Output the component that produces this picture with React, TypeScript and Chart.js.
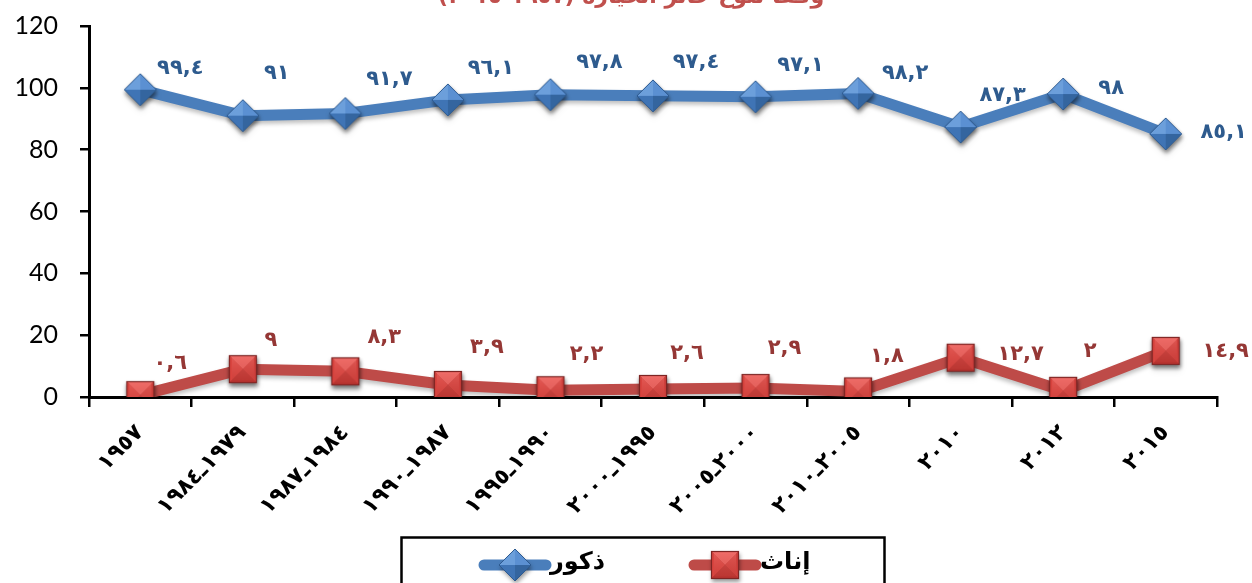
import React, { useEffect, useRef } from "react";
import { Chart, registerables } from "chart.js";

Chart.register(...registerables);

// ---- data ----
const categories = [
  "١٩٥٧",
  "١٩٧٩ـ١٩٨٤",
  "١٩٨٤ـ١٩٨٧",
  "١٩٨٧ـ١٩٩٠",
  "١٩٩٠ـ١٩٩٥",
  "١٩٩٥ـ٢٠٠٠",
  "٢٠٠٠ـ٢٠٠٥",
  "٢٠٠٥ـ٢٠١٠",
  "٢٠١٠",
  "٢٠١٢",
  "٢٠١٥",
];
const maleValues = [99.4, 91, 91.7, 96.1, 97.8, 97.4, 97.1, 98.2, 87.3, 98, 85.1];
const femaleValues = [0.6, 9, 8.3, 3.9, 2.2, 2.6, 2.9, 1.8, 12.7, 2, 14.9];
const yTicks = [0, 20, 40, 60, 80, 100, 120];
const maleName = "ذكور";
const femaleName = "إناث";
const titleText = "وفقاً لنوع حائز الحيازة (١٩٥٧-٢٠١٥)";

// label offsets relative to the drawn point (style only)
const maleLabelOffsets = [
  [40, -21], [34, -42], [44, -34], [43, -31], [49, -32], [43, -33],
  [45, -31], [47, -20], [42, -32], [48, -5], [58, -1],
];
const femaleLabelOffsets = [
  [30, -32], [28, -29], [39, -34], [39, -37], [36, -36], [34, -35],
  [29, -39], [29, -35], [60, -3], [27, -39], [60, 1],
];

const BLUE = "#4A7EBB";
const RED = "#BE4B48";

const toArabicDigits = (v: number) =>
  String(v)
    .replace(".", ",")
    .replace(/\d/g, (d) => "٠١٢٣٤٥٦٧٨٩"[Number(d)]);

function makeDiamond(): HTMLCanvasElement {
  const c = document.createElement("canvas");
  c.width = 46;
  c.height = 46;
  const ctx = c.getContext("2d")!;
  const m = 23;
  const h = 16;
  const T = [m, m - h], R = [m + h, m], B = [m, m + h], L = [m - h, m];
  ctx.save();
  ctx.shadowColor = "rgba(0,0,0,0.4)";
  ctx.shadowBlur = 4;
  ctx.shadowOffsetX = 1;
  ctx.shadowOffsetY = 3;
  ctx.beginPath();
  ctx.moveTo(T[0], T[1]); ctx.lineTo(R[0], R[1]); ctx.lineTo(B[0], B[1]); ctx.lineTo(L[0], L[1]);
  ctx.closePath();
  ctx.fillStyle = "#3A6AA5";
  ctx.fill();
  ctx.restore();
  const facet = (a: number[], b: number[], col: string) => {
    ctx.beginPath();
    ctx.moveTo(a[0], a[1]); ctx.lineTo(b[0], b[1]); ctx.lineTo(m, m);
    ctx.closePath();
    ctx.fillStyle = col;
    ctx.fill();
  };
  facet(L, T, "#6C9FDB");
  facet(T, R, "#5B90D2");
  facet(L, B, "#3F74B5");
  facet(B, R, "#34659F");
  ctx.beginPath();
  ctx.moveTo(T[0], T[1]); ctx.lineTo(R[0], R[1]); ctx.lineTo(B[0], B[1]); ctx.lineTo(L[0], L[1]);
  ctx.closePath();
  ctx.strokeStyle = "#2D5A90";
  ctx.lineWidth = 1;
  ctx.stroke();
  return c;
}

function makeSquare(): HTMLCanvasElement {
  const c = document.createElement("canvas");
  c.width = 46;
  c.height = 46;
  const ctx = c.getContext("2d")!;
  const m = 23;
  const h = 14;
  ctx.save();
  ctx.shadowColor = "rgba(0,0,0,0.4)";
  ctx.shadowBlur = 4;
  ctx.shadowOffsetX = 1;
  ctx.shadowOffsetY = 3;
  ctx.fillStyle = "#A8332F";
  ctx.fillRect(m - h, m - h, 2 * h, 2 * h);
  ctx.restore();
  const TL = [m - h, m - h], TR = [m + h, m - h], BR = [m + h, m + h], BL = [m - h, m + h];
  const facet = (a: number[], b: number[], col: string) => {
    ctx.beginPath();
    ctx.moveTo(a[0], a[1]); ctx.lineTo(b[0], b[1]); ctx.lineTo(m, m);
    ctx.closePath();
    ctx.fillStyle = col;
    ctx.fill();
  };
  facet(TL, TR, "#EE6B67");
  facet(TL, BL, "#D9443F");
  facet(TR, BR, "#CF403C");
  facet(BL, BR, "#B83430");
  const inset = 3;
  const g = ctx.createLinearGradient(0, m - h, 0, m + h);
  g.addColorStop(0, "rgba(240,110,105,0.55)");
  g.addColorStop(1, "rgba(190,55,50,0.35)");
  ctx.fillStyle = g;
  ctx.fillRect(m - h + inset, m - h + inset, 2 * (h - inset), 2 * (h - inset));
  ctx.strokeStyle = "#7E2523";
  ctx.lineWidth = 1.2;
  ctx.strokeRect(m - h + 0.5, m - h + 0.5, 2 * h - 1, 2 * h - 1);
  return c;
}

export default function App() {
  const ref = useRef<HTMLCanvasElement | null>(null);

  useEffect(() => {
    if (!ref.current) return;
    const diamond = makeDiamond();
    const square = makeSquare();

    const lineShadow = {
      id: "lineShadow",
      beforeDatasetDraw(chart: any) {
        const ctx = chart.ctx;
        ctx.save();
        ctx.shadowColor = "rgba(0,0,0,0.25)";
        ctx.shadowBlur = 4;
        ctx.shadowOffsetY = 3;
      },
      afterDatasetDraw(chart: any) {
        chart.ctx.restore();
      },
    };

    const extras = {
      id: "extras",
      afterDatasetsDraw(chart: any) {
        const ctx = chart.ctx as CanvasRenderingContext2D;
        const sets = [
          { vals: maleValues, offs: maleLabelOffsets, color: "#2E5B8E" },
          { vals: femaleValues, offs: femaleLabelOffsets, color: "#953735" },
        ];
        sets.forEach((s, di) => {
          const meta = chart.getDatasetMeta(di);
          ctx.save();
          ctx.font = "bold 21px 'DejaVu Sans'";
          (ctx as any).letterSpacing = "3px";
          ctx.fillStyle = s.color;
          ctx.textAlign = "center";
          ctx.textBaseline = "middle";
          meta.data.forEach((pt: any, i: number) => {
            const [dx, dy] = s.offs[i];
            ctx.fillText(toArabicDigits(s.vals[i]), pt.x + dx, pt.y + dy);
          });
          ctx.restore();
        });
      },
      afterDraw(chart: any) {
        const ctx = chart.ctx as CanvasRenderingContext2D;
        // title (clipped at the top, as in the source)
        ctx.save();
        ctx.font = "bold 22px 'DejaVu Sans'";
        ctx.fillStyle = "#C0504D";
        ctx.textAlign = "center";
        ctx.textBaseline = "alphabetic";
        (ctx as any).direction = "rtl";
        ctx.fillText(titleText, 631, 3);
        ctx.restore();

        // legend
        ctx.save();
        ctx.strokeStyle = "#000";
        ctx.lineWidth = 2.5;
        ctx.strokeRect(401.5, 537.5, 483, 60);
        const item = (x0: number, x1: number, col: string, img: HTMLCanvasElement, text: string) => {
          const y = 565;
          ctx.beginPath();
          ctx.moveTo(x0, y);
          ctx.lineTo(x1, y);
          ctx.strokeStyle = col;
          ctx.lineWidth = 11;
          ctx.lineCap = "round";
          ctx.stroke();
          const cx = (x0 + x1) / 2;
          ctx.drawImage(img, cx - img.width / 2, y - img.height / 2);
          ctx.fillStyle = "#000";
          ctx.font = "bold 24px 'DejaVu Sans'";
          ctx.textAlign = "left";
          ctx.textBaseline = "middle";
          ctx.fillText(text, x1 + 4, y - 2);
        };
        item(484, 546, BLUE, diamond, maleName);
        item(694, 756, RED, square, femaleName);
        ctx.restore();
      },
    };

    const chart = new Chart(ref.current, {
      type: "line",
      data: {
        labels: categories,
        datasets: [
          {
            label: maleName,
            data: maleValues,
            borderColor: BLUE,
            backgroundColor: BLUE,
            borderWidth: 11,
            borderJoinStyle: "round",
            borderCapStyle: "round",
            pointStyle: diamond as any,
            pointRadius: 15,
            tension: 0,
          },
          {
            label: femaleName,
            data: femaleValues,
            borderColor: RED,
            backgroundColor: RED,
            borderWidth: 11,
            borderJoinStyle: "round",
            borderCapStyle: "round",
            pointStyle: square as any,
            pointRadius: 15,
            tension: 0,
          },
        ],
      },
      options: {
        animation: false,
        responsive: false,
        layout: { padding: { top: 25, right: 35, bottom: 0, left: 0 } },
        plugins: {
          legend: { display: false },
          title: { display: false },
          tooltip: { enabled: false },
        },
        scales: {
          x: {
            type: "category",
            offset: true,
            grid: {
              display: true,
              drawOnChartArea: false,
              drawTicks: true,
              tickLength: 10,
              color: "#000",
              lineWidth: 2.5,
              offset: true,
            },
            border: { display: true, color: "#000", width: 3 },
            ticks: {
              autoSkip: false,
              minRotation: 45,
              maxRotation: 45,
              color: "#000",
              padding: 13,
              font: { family: "'DejaVu Sans'", weight: "bold", size: 22 },
            },
            afterFit(s: any) {
              s.height = 186;
            },
          },
          y: {
            min: 0,
            max: 120,
            afterBuildTicks(s: any) {
              s.ticks = yTicks.map((v) => ({ value: v }));
            },
            grid: {
              display: true,
              drawOnChartArea: false,
              drawTicks: true,
              tickLength: 9,
              color: "#000",
              lineWidth: 2.5,
            },
            border: { display: true, color: "#000", width: 3 },
            ticks: {
              color: "#000",
              padding: 22,
              font: { family: "Lato", size: 25 },
            },
            afterFit(s: any) {
              s.width = 89;
              s.paddingTop = 0;
              s.paddingBottom = 0;
            },
          },
        },
      } as any,
      plugins: [lineShadow, extras],
    });
    return () => chart.destroy();
  }, []);

  return (
    <div style={{ position: "absolute", left: 0, top: 0, width: 1252, height: 583, background: "#fff" }}>
      <canvas ref={ref} width={1252} height={583} style={{ display: "block" }} />
    </div>
  );
}
